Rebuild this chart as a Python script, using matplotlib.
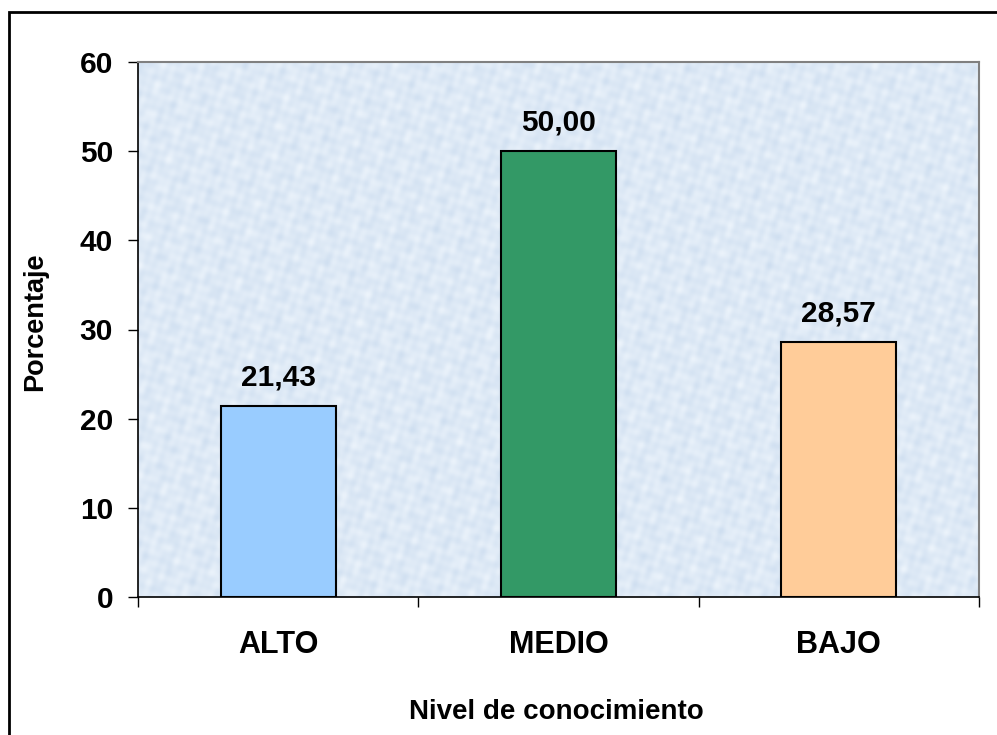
"""Bar chart: nivel de conocimiento"""

import numpy as np
import matplotlib
matplotlib.use("Agg")
from matplotlib import pyplot as plt
from matplotlib.patches import Rectangle

categorias = ["ALTO", "MEDIO", "BAJO"]
porcentajes = [21.43, 50.00, 28.57]
colores = ["#99CCFF", "#339966", "#FFCC99"]
y_ticks = [0, 10, 20, 30, 40, 50, 60]

plt.rcParams["font.family"] = ["Liberation Sans", "DejaVu Sans"]
plt.rcParams["font.weight"] = "bold"

W, H = 997, 735
fig = plt.figure(figsize=(W / 100, H / 100), dpi=100)
ax = fig.add_axes([138 / W, 1 - 597 / H, (979 - 138) / W, (597 - 62) / H])

# mottled light-blue backdrop for the plot area (overlapping waves)
yy, xx = np.mgrid[0:270, 0:420].astype(float)
waves = [(0.37, 0.11, 0.0), (-0.23, 0.41, 1.3), (0.71, -0.29, 2.1),
         (0.13, 0.83, 0.7), (-0.97, -0.17, 3.3), (0.53, 0.61, 4.9),
         (1.31, 0.47, 0.4), (-0.43, 1.19, 2.7)]
pattern = sum(np.sin(fx * xx + fy * yy + ph) for fx, fy, ph in waves)
pattern = (pattern - pattern.min()) / (pattern.max() - pattern.min())
light = np.array([238, 245, 252]) / 255
dark = np.array([206, 222, 240]) / 255
tex = light + (dark - light) * pattern[..., None]
ax.imshow(tex, extent=(0, 1, 0, 1), transform=ax.transAxes, aspect="auto",
          interpolation="bilinear", zorder=0)

x = np.arange(len(categorias)) + 0.5
bars = ax.bar(x, porcentajes, width=0.41, color=colores, edgecolor="black",
              linewidth=1.5, zorder=2)

for b, v in zip(bars, porcentajes):
    ax.annotate(f"{v:.2f}".replace(".", ","), (b.get_x() + b.get_width() / 2, v),
                xytext=(0, 15), textcoords="offset points", ha="center",
                va="baseline", fontsize=21.5, fontweight="bold")

ax.set_xlim(0, 3)
ax.set_ylim(0, 60)
ax.set_yticks(y_ticks)
ax.tick_params(axis="y", length=7, width=1, labelsize=21.5, pad=11)

# boundary ticks on the x axis, category names between them
ax.set_xticks([0, 1, 2, 3])
ax.set_xticklabels([])
ax.tick_params(axis="x", which="major", length=7, width=1)
ax.set_xticks(x, minor=True)
ax.set_xticklabels(categorias, minor=True, fontsize=22, fontweight="bold")
ax.tick_params(axis="x", which="minor", length=0, pad=24)

for side in ("top", "right"):
    ax.spines[side].set_color("#808080")
    ax.spines[side].set_linewidth(1.5)
for side in ("left", "bottom"):
    ax.spines[side].set_color("black")
    ax.spines[side].set_linewidth(1.2)

fig.text(556 / W, 1 - 712 / H, "Nivel de conocimiento", ha="center", va="center",
         fontsize=20, fontweight="bold")
fig.text(35 / W, 1 - 322 / H, "Porcentaje", ha="center", va="center",
         rotation=90, fontsize=19.5, fontweight="bold")

# outer frame
fig.patches.append(Rectangle((9 / W, -0.05), 1.0, 1.05 - 12 / H,
                             transform=fig.transFigure, fill=False,
                             edgecolor="black", linewidth=2))

fig.savefig("out.png", dpi=100)
